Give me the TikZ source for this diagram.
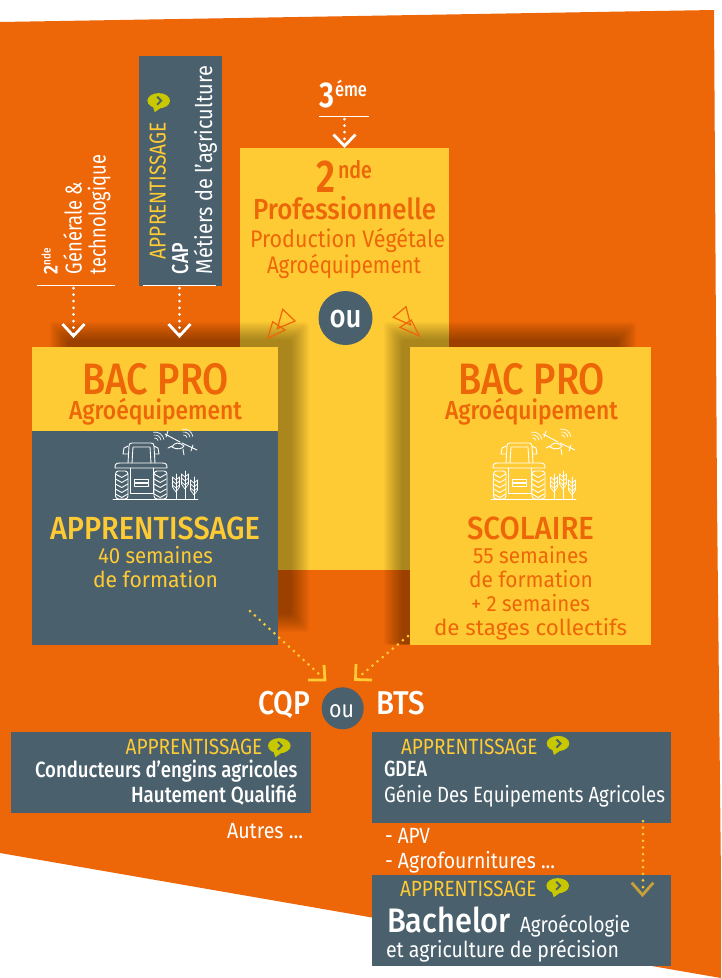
\documentclass[tikz,border=0pt]{standalone}
\usepackage{fontspec}
\usepackage{graphicx}
\setmainfont{Fira Sans}
\newfontfamily\fm{Fira Sans Medium}
\newfontfamily\fb{Fira Sans SemiBold}
\definecolor{orangebg}{HTML}{ED6608}
\definecolor{yel}{HTML}{FFCB34}
\definecolor{slate}{HTML}{4A606C}
\definecolor{olive}{HTML}{C8C800}
\definecolor{tan}{HTML}{C8A03A}
% \ft{width}{font size}{text}: text set to an exact width, keeping its height
\newcommand{\ft}[3]{\resizebox{#1pt}{\height}{\fontsize{#2pt}{#2pt}\selectfont #3}}
\tikzset{
  lbl/.style={inner sep=0pt,outer sep=0pt,anchor=base west,yshift=-1pt},
  side/.style={inner sep=0pt,outer sep=0pt,anchor=base west,rotate=90},
  chev/.style={line width=2.8pt,miter limit=10},
  dots/.style={line width=3pt,line cap=round,dash pattern=on 0pt off 6.6pt},
  icon/.style={draw=white,line width=0.9pt,fill=none,line cap=round,line join=round},
  tri/.style={draw=orangebg,line width=1.2pt,fill=none,line join=miter},
  pics/bubble/.style={code={
    \fill[olive] (0,0) ellipse (11.3 and 7.6);
    \fill[olive] (-6,5) -- (-4,11.5) -- (3,6.5) -- cycle;
    \draw[slate,line width=1.8pt] (-1.5,-4) -- (2.5,0) -- (-1.5,4);
  }},
  pics/tractor/.style={code={
    \draw[icon] (113,499.5) -- (198,499.5);
    % wheels
    \draw[icon,rounded corners=3pt] (115.5,471) rectangle (128,499);
    \draw[icon,rounded corners=3pt] (154,471) rectangle (167,499);
    \foreach \w in {115.5,154}{
      \foreach \y in {474,479,484,489,494}{
        \draw[icon] (\w,\y) -- ++(6.2,3.5) -- ++(6.2,-3.5);
      }
    }
    % fender and hood
    \draw[icon] (115,468) .. controls (115,464) and (116,463) .. (120,463) -- (162,463) .. controls (166,463) and (167,464) .. (167,468) -- cycle;
    \draw[icon] (130,468) -- (130,493) -- (153,493) -- (153,468);
    \draw[icon] (134,479) rectangle (148,482);
    \draw[icon] (134,483.5) rectangle (148,486.5);
    % cab
    \draw[icon] (128,463) -- (129,446) .. controls (129,444) and (130,443) .. (132,443) -- (151,443) .. controls (153,443) and (154,444) .. (154,446) -- (155,463);
    \draw[icon] (132,463) -- (133,447) -- (150,447) -- (151,463);
    \draw[icon] (128,446) -- (124,448) -- (123,454) -- (128.5,454);
    \draw[icon] (154,446) -- (158,448) -- (159,454) -- (154.5,454);
    % wifi
    \foreach \r in {3,6,9}{ \draw[icon,line width=0.7pt] (155,441)++(-10:\r) arc (-10:-100:\r); }
    \foreach \r in {3,6,9}{ \draw[icon,line width=0.7pt] (184,438)++(-10:\r) arc (-10:-100:\r); }
    % drone
    \draw[icon] (165,434) -- (180,442);
    \draw[icon] (168,431) -- (166,437);
    \draw[icon] (182,443) -- (197,450);
    \draw[icon] (193,445) -- (191,451);
    \draw[icon] (172,447) .. controls (174,442) and (180,442) .. (184,446) .. controls (183,449) and (176,450) .. (172,447);
    \draw[icon] (168,448) -- (172,446);
    \draw[icon] (183,449) -- (184,455);
    % wheat
    \foreach \x/\t in {176/474,185/471,194/477}{
      \draw[icon] (\x,\t) -- (\x,499);
      \foreach \d in {6,10,14}{
        \draw[icon,line width=0.7pt] (\x-3.5,\t+\d-3) -- (\x,\t+\d) -- (\x+3.5,\t+\d-3);
      }
      \draw[icon,line width=0.7pt] (\x-3.5,\t+3) -- (\x-3.5,\t+13) -- (\x,\t+18) -- (\x+3.5,\t+13) -- (\x+3.5,\t+3);
    }
  }}
}
\begin{document}
\begin{tikzpicture}[x=1pt,y=-1pt]
\useasboundingbox (0,0) rectangle (721,978);
\fill[white] (0,0) rectangle (721,978);
% background
\fill[orangebg] (0,22) -- (714,10) -- (717,500) -- (721,880) -- (721,978) -- (0,853) -- cycle;

% 2nde box
\node[fill=yel,inner sep=0pt,outer sep=0pt,minimum width=209pt,minimum height=422pt,anchor=north west] (snd) at (240,148) {};

% shadows
\foreach \i in {0,...,11}{
  \fill[black,opacity=0.03,rounded corners=3pt] (50+1.6*\i,322+1.6*\i) rectangle (309-1.6*\i,632-1.6*\i);
  \fill[black,opacity=0.03,rounded corners=3pt] (384+1.6*\i,322+1.6*\i) rectangle (636-1.6*\i,644.5);
}

% texts of 2nde box
\node[lbl,text=orangebg] (t2) at (316,191) {\ft{19}{46}{\fb 2}};
\node[lbl,text=orangebg] (tnde) at (338,177) {\ft{34}{24}{\fm nde}};
\node[lbl,text=orangebg] (tpro) at (253,218) {\ft{183}{29}{\fm Professionnelle}};
\node[lbl,text=orangebg] (tprod) at (250,246) {\ft{195}{24}{Production Végétale}};
\node[lbl,text=orangebg] (tagro) at (267,272) {\ft{154}{24}{Agroéquipement}};
\node[circle,fill=slate,minimum size=54pt,inner sep=0pt] (ou1) at (345.5,318) {};
\node[lbl,text=white] (ou1t) at (329.5,326.5) {\ft{32}{32}{\fm ou}};

% double triangles
\draw[tri] (282.7,309.3) -- (295,321) -- (277.3,328.7) -- cycle;
\draw[tri] (272.7,321.7) -- (285,330) -- (267.7,338.3) -- cycle;
\draw[tri] (406,306.7) -- (393.3,317.3) -- (410.7,325) -- cycle;
\draw[tri] (411.3,320) -- (419.3,336) -- (400,327.3) -- cycle;

% 3eme
\node[lbl,text=white] (t3) at (319,106) {\ft{15}{36}{\fb 3}};
\node[lbl,text=white] (teme) at (335,95) {\ft{32}{20}{\fm éme}};
\coordinate (a3s) at (344.5,119);
\coordinate (a3e) at (344.5,146);
\draw[white,line width=1pt] (319,116) -- (369,116);
\draw[white,dots] (a3s) -- (a3e);
\draw[white,chev] (333.5,134.5) -- (344.5,146) -- (355.5,134.5);

% seconde generale
\node[side,text=white] (g1) at (57.5,274) {\ft{9}{20}{\fb 2}};
\node[side,text=white] (g2) at (50.5,265) {\ft{17}{12}{\fm nde}};
\node[side,text=white] (g3) at (81.7,274) {\ft{92}{23}{Générale \&}};
\node[side,text=white] (g4) at (105.7,274) {\ft{119}{23}{technologique}};
\draw[white,line width=1pt] (37,285.5) -- (115,285.5);
\coordinate (gs) at (73.5,288);
\coordinate (ge) at (73.5,336);
\draw[white,dots] (gs) -- (ge);
\draw[white,chev] (62.5,324) -- (73.5,336) -- (84.5,324);

% CAP
\node[fill=slate,inner sep=0pt,outer sep=0pt,minimum width=83pt,minimum height=230pt,anchor=north west] (cap) at (139,56) {};
\node[side,text=yel] (c1) at (165.7,259) {\ft{136.5}{23}{APPRENTISSAGE}};
\pic at (158.7,100.7) {bubble};
\node[side,text=white] (c2) at (188,274) {\ft{31}{23}{\fm CAP}};
\node[side,text=white] (c3) at (212,274) {\ft{208}{23}{Métiers de l’agriculture}};
\draw[white,line width=1pt] (143,285.5) -- (216,285.5);
\coordinate (cs) at (179.5,288);
\coordinate (ce) at (179.5,336);
\draw[white,dots] (cs) -- (ce);
\draw[white,chev] (168.5,324) -- (179.5,336) -- (190.5,324);

% left BAC box
\node[fill=slate,inner sep=0pt,outer sep=0pt,minimum width=246pt,minimum height=298pt,anchor=north west] (bl) at (32,347) {};
\node[fill=yel,inner sep=0pt,outer sep=0pt,minimum width=246pt,minimum height=84pt,anchor=north west] (bly) at (32,347) {};
\node[lbl,text=orangebg] (b1) at (82,393) {\ft{147}{44}{\fm BAC PRO}};
\node[lbl,text=orangebg] (b2) at (69,418) {\ft{173}{26}{\fm Agroéquipement}};
\pic at (0,0) {tractor};
\node[lbl,text=yel] (b3) at (50,538) {\ft{210}{32}{\fm APPRENTISSAGE}};
\node[lbl,text=yel] (b4) at (98,562) {\ft{115}{22}{40 semaines}};
\node[lbl,text=yel] (b5) at (93,586) {\ft{125}{22}{de formation}};

% right BAC box
\node[fill=yel,inner sep=0pt,outer sep=0pt,minimum width=241pt,minimum height=298pt,anchor=north west] (br) at (410,347) {};
\node[lbl,text=orangebg] (r1) at (458,393) {\ft{147}{44}{\fm BAC PRO}};
\node[lbl,text=orangebg] (r2) at (445,418) {\ft{173}{26}{\fm Agroéquipement}};
\pic at (378,0) {tractor};
\node[lbl,text=orangebg] (r3) at (467,538) {\ft{127}{32}{\fm SCOLAIRE}};
\node[lbl,text=orangebg] (r4) at (473,562) {\ft{115}{22}{55 semaines}};
\node[lbl,text=orangebg] (r5) at (469,586) {\ft{124}{22}{de formation}};
\node[lbl,text=orangebg] (r6) at (471,610) {\ft{119}{22}{+ 2 semaines}};
\node[lbl,text=orangebg] (r7) at (434,634) {\ft{193}{22}{de stages collectifs}};

% yellow arrows to CQP/BTS
\coordinate (ya) at (250,611);
\coordinate (yb) at (320,675);
\coordinate (yc) at (408,636);
\coordinate (yd) at (360,676);
\draw[yel,dots] (ya) -- (yb);
\draw[yel,dots] (yc) -- (yd);
\draw[yel,chev] (324,665) -- (325,680) -- (308,680);
\draw[yel,chev] (356,664) -- (355.5,679.5) -- (372,680);

% CQP ou BTS
\node[lbl,text=white] (cqp) at (258,713) {\ft{52}{33}{\fm CQP}};
\node[circle,fill=slate,minimum size=42pt,inner sep=0pt] (ou2) at (342.7,708.3) {};
\node[lbl,text=white] (ou2t) at (329,716) {\ft{25}{24}{ou}};
\node[lbl,text=white] (bts) at (376,713) {\ft{49}{33}{\fm BTS}};

% left slate
\node[fill=slate,inner sep=0pt,outer sep=0pt,minimum width=300pt,minimum height=81pt,anchor=north west] (lq) at (11,732) {};
\node[lbl,text=yel] (l1) at (125.7,753.3) {\ft{136.5}{22}{APPRENTISSAGE}};
\pic at (279.3,745.7) {bubble};
\node[lbl,text=white] (l2) at (35,776.7) {\ft{262.5}{22}{\fm Conducteurs d’engins agricoles}};
\node[lbl,text=white] (l3) at (131,801.7) {\ft{166}{22}{\fm Hautement Qualifié}};
\node[lbl,text=white] (l4) at (227,837.7) {\ft{76}{22}{Autres ...}};

% right slate
\node[fill=slate,inner sep=0pt,outer sep=0pt,minimum width=299pt,minimum height=91pt,anchor=north west] (rq) at (372,732) {};
\node[lbl,text=yel] (m1) at (401,753.3) {\ft{136.5}{22}{APPRENTISSAGE}};
\pic at (558,743.5) {bubble};
\node[lbl,text=white] (m2) at (384,775.7) {\ft{43}{22}{\fm GDEA}};
\node[lbl,text=white] (m3) at (384,801.7) {\ft{281}{22}{Génie Des Equipements Agricoles}};
\node[lbl,text=white] (m4) at (385,842.7) {\ft{45}{22}{- APV}};
\node[lbl,text=white] (m5) at (385,867.7) {\ft{170}{22}{- Agrofournitures ...}};

% bottom slate
\node[fill=slate,inner sep=0pt,outer sep=0pt,minimum width=299pt,minimum height=91pt,anchor=north west] (bq) at (372,875) {};
\node[lbl,text=yel] (n1) at (400,895) {\ft{136.5}{22}{APPRENTISSAGE}};
\pic at (557.7,885.7) {bubble};
\node[lbl,text=white] (n2) at (387,931.7) {\ft{124}{34}{\fm Bachelor}};
\node[lbl,text=white] (n3) at (520,931.7) {\ft{110}{22}{Agroécologie}};
\node[lbl,text=white] (n4) at (386,956.7) {\ft{233}{22}{et agriculture de précision}};
\coordinate (ps) at (643,821);
\coordinate (pe) at (643,893);
\draw[yel,dots] (ps) -- (pe);
\draw[tan,chev] (631.7,882.7) -- (642.5,895) -- (653.3,882.7);
\end{tikzpicture}
\end{document}
